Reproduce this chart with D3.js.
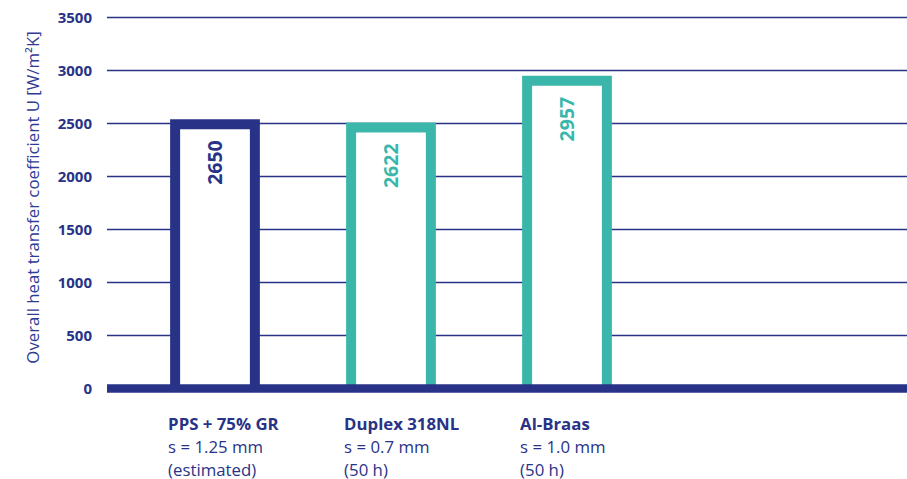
<!DOCTYPE html>
<html>
<head>
<meta charset="utf-8">
<script src="https://cdn.jsdelivr.net/npm/d3@7"></script>
<style>
  body { margin: 0; background: #fff; }
  text { font-family: "Open Sans", "Noto Sans", sans-serif; }
</style>
</head>
<body>
<div id="chart"></div>
<script>
const categories = ["PPS + 75% GR", "Duplex 318NL", "Al-Braas"];
const subLines = [["s = 1.25 mm", "(estimated)"], ["s = 0.7 mm", "(50 h)"], ["s = 1.0 mm", "(50 h)"]];
// bar heights as drawn in the picture (outer edge), labels as printed
const barValues = [2540, 2510, 2950];
const valueLabels = ["2650", "2622", "2957"];
const barColors = ["#283387", "#3ab7aa", "#3ab7aa"];
const yTicks = [0, 500, 1000, 1500, 2000, 2500, 3000, 3500];

const w = 907;
const h = 479;
const navy = "#283387";
const sw = 10;

const svg = d3.select("#chart").append("svg").attr("width", w).attr("height", h);

const y = d3.scaleLinear().domain([0, 3500]).range([388.5, 17.5]);
const x = d3.scaleBand().domain(categories).range([127, 655]).paddingInner(0.49).paddingOuter(0.245);

// gridlines
svg.append("g")
  .selectAll("line")
  .data(yTicks.filter((d) => d > 0))
  .enter()
  .append("line")
  .attr("x1", 107)
  .attr("x2", w)
  .attr("y1", (d) => y(d))
  .attr("y2", (d) => y(d))
  .attr("stroke", navy)
  .attr("stroke-width", 1.5);

// tick labels
svg.append("g")
  .selectAll("text")
  .data(yTicks)
  .enter()
  .append("text")
  .attr("x", 92)
  .attr("y", (d) => y(d))
  .attr("dy", "0.36em")
  .attr("text-anchor", "end")
  .attr("font-size", 15)
  .attr("font-weight", "bold")
  .attr("fill", navy)
  .text((d) => d);

// bars: open at the bottom, sides run into the baseline
svg.append("g")
  .selectAll("path")
  .data(categories)
  .enter()
  .append("path")
  .attr("d", (d, i) => {
    const l = x(d) + sw / 2;
    const r = x(d) + x.bandwidth() - sw / 2;
    const t = y(barValues[i]) + sw / 2;
    return `M${l},${y(0)}V${t}H${r}V${y(0)}`;
  })
  .attr("fill", "#fff")
  .attr("stroke", (d, i) => barColors[i])
  .attr("stroke-width", sw)
  .attr("stroke-linejoin", "miter");

// value labels
svg.append("g")
  .selectAll("text")
  .data(categories)
  .enter()
  .append("text")
  .attr("transform", (d, i) => `translate(${x(d) + x.bandwidth() / 2 + 7},${y(barValues[i]) + 21}) rotate(-90)`)
  .attr("text-anchor", "end")
  .attr("font-size", 19.5)
  .attr("font-weight", "bold")
  .attr("fill", (d, i) => barColors[i])
  .text((d, i) => valueLabels[i]);

// baseline
svg.append("line")
  .attr("x1", 107)
  .attr("x2", w)
  .attr("y1", y(0))
  .attr("y2", y(0))
  .attr("stroke", navy)
  .attr("stroke-width", 8.5);

// category labels
const cat = svg.append("g")
  .selectAll("text")
  .data(categories)
  .enter()
  .append("text")
  .attr("font-size", 16.8)
  .attr("fill", navy);

cat.append("tspan")
  .attr("x", (d) => x(d) - 2)
  .attr("y", 430)
  .attr("font-weight", "bold")
  .text((d) => d);

cat.each(function (d, i) {
  subLines[i].forEach((s, j) => {
    d3.select(this).append("tspan")
      .attr("x", x(d) - 2)
      .attr("y", 453 + j * 22.5)
      .text(s);
  });
});

// y axis title
svg.append("text")
  .attr("transform", `translate(39,${(30 + 365) / 2}) rotate(-90)`)
  .attr("text-anchor", "middle")
  .attr("font-size", 16.8)
  .attr("fill", "#2f3b94")
  .text("Overall heat transfer coefficient U [W/m²K]");
</script>
</body>
</html>
